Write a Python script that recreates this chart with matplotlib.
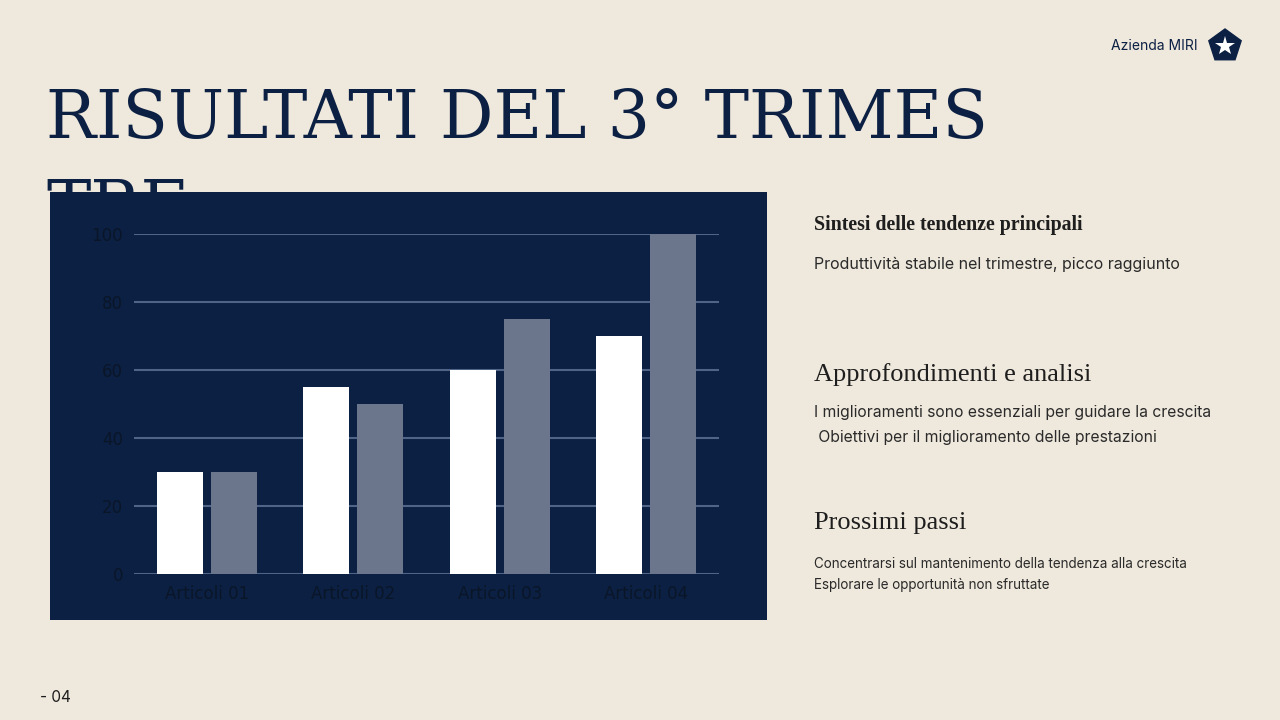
import matplotlib
matplotlib.use("Agg")
import matplotlib.pyplot as plt
from matplotlib.patches import RegularPolygon
import numpy as np

# data
categories = ["Articoli 01", "Articoli 02", "Articoli 03", "Articoli 04"]
serie_a = [30, 55, 60, 70]
serie_b = [30, 50, 75, 100]
y_ticks = [0, 20, 40, 60, 80, 100]

BG = "#EFE8DC"
NAVY = "#0B2043"
GREY = "#6B768D"
GRID = "#4F6487"
TXT = "#1E1E1E"

W, H = 1280, 720
fig = plt.figure(figsize=(12.8, 7.2), dpi=100, facecolor=BG)


def fx(px):
    return px / W


def fy(py):
    return 1 - py / H


# title (second line sits behind the chart panel)
fig.text(fx(46), fy(138), "RISULTATI DEL 3° TRIMES", family="DejaVu Serif",
         fontsize=48, color=NAVY, ha="left", va="baseline", zorder=-5)
fig.text(fx(46), fy(228), "TRE", family="DejaVu Serif",
         fontsize=48, color=NAVY, ha="left", va="baseline", zorder=-5)

# chart panel
panel = fig.add_axes([fx(50), fy(620), fx(767) - fx(50), fy(192) - fy(620)], zorder=5)
panel.set_facecolor(NAVY)
panel.set_xticks([])
panel.set_yticks([])
for s in panel.spines.values():
    s.set_visible(False)

ax = fig.add_axes([fx(134), fy(574), fx(719) - fx(134), fy(234) - fy(574)], zorder=6)
ax.patch.set_alpha(0)
x = np.arange(len(categories))
bw = 0.315
ax.bar(x - 0.185, serie_a, bw, color="white", zorder=3)
ax.bar(x + 0.185, serie_b, bw, color=GREY, zorder=3)
ax.set_xlim(-0.5, len(categories) - 0.5)
ax.set_ylim(0, 100)
ax.set_yticks(y_ticks)
ax.set_xticks(x)
ax.set_xticklabels(categories)
for t in y_ticks:
    ax.axhline(t, color=GRID, lw=1.5, zorder=1)
ax.tick_params(axis="y", length=0, colors="#0A1628", labelsize=12, pad=8)
ax.tick_params(axis="x", length=0, colors="#0A1628", labelsize=12, pad=8)
for s in ax.spines.values():
    s.set_visible(False)

# right column
body = "#2A2A2A"
fig.text(fx(814), fy(225), "Sintesi delle tendenze principali", family="Liberation Serif",
         fontsize=14.3, fontweight="bold", color=TXT, va="center")
fig.text(fx(814), fy(264), "Produttività stabile nel trimestre, picco raggiunto", family="Inter",
         fontsize=11.5, color=body, va="center")
fig.text(fx(814), fy(375), "Approfondimenti e analisi", family="Liberation Serif",
         fontsize=19, color=TXT, va="center")
fig.text(fx(814), fy(413), "I miglioramenti sono essenziali per guidare la crescita", family="Inter",
         fontsize=11.3, color=body, va="center")
fig.text(fx(814), fy(438), " Obiettivi per il miglioramento delle prestazioni", family="Inter",
         fontsize=11.3, color=body, va="center")
fig.text(fx(814), fy(523), "Prossimi passi", family="Liberation Serif",
         fontsize=19, color=TXT, va="center")
fig.text(fx(814), fy(564), "Concentrarsi sul mantenimento della tendenza alla crescita", family="Inter",
         fontsize=9.7, color=body, va="center")
fig.text(fx(814), fy(585), "Esplorare le opportunità non sfruttate", family="Inter",
         fontsize=9.7, color=body, va="center")

# header logo
fig.text(fx(1198), fy(46), "Azienda MIRI", family="Inter", fontsize=10, color=NAVY,
         ha="right", va="center")
lax = fig.add_axes([fx(1205), fy(66), fx(40), fx(40) * W / H], zorder=5)
lax.set_xlim(-1, 1)
lax.set_ylim(-1, 1)
lax.set_aspect("equal")
lax.axis("off")
lax.add_patch(RegularPolygon((0, 0), 5, radius=0.85, color=NAVY))
lax.plot(0, -0.02, marker="*", ms=15, color="white", mew=0)

fig.text(fx(40), fy(697), "- 04", family="Inter", fontsize=11, color=TXT, va="center")

fig.savefig("out.png", dpi=100, facecolor=BG)
